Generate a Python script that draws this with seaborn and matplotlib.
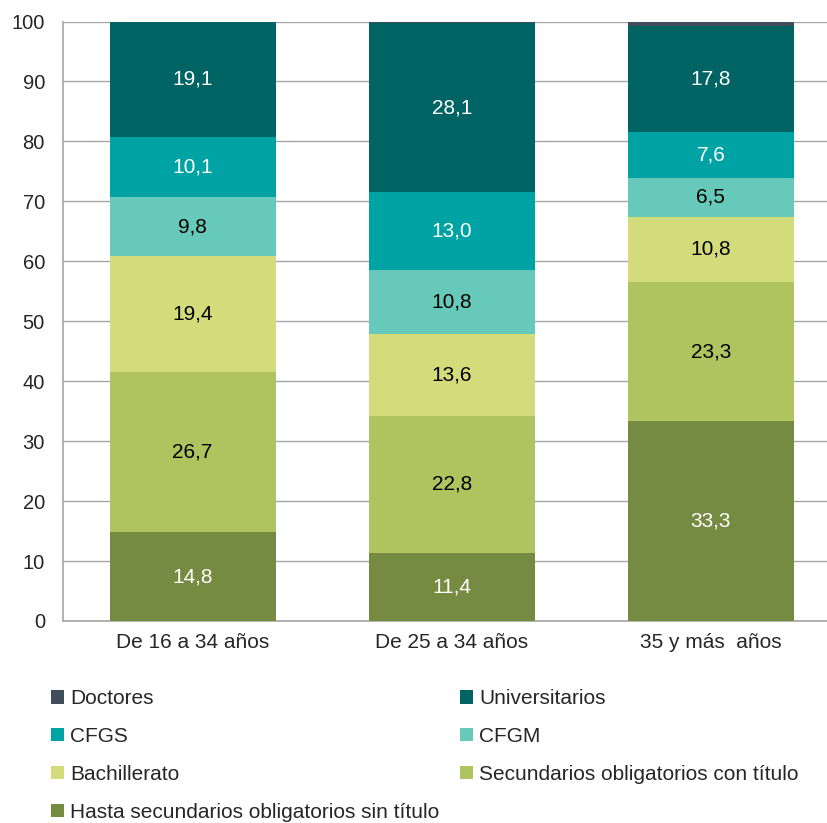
import numpy as np
import pandas as pd
import seaborn as sns
import matplotlib.pyplot as plt
from matplotlib.patches import Patch

# data (percent)
grupos = ['De 16 a 34 años', 'De 25 a 34 años', '35 y más  años']
niveles = ['Hasta secundarios obligatorios sin título',
           'Secundarios obligatorios con título',
           'Bachillerato', 'CFGM', 'CFGS', 'Universitarios', 'Doctores']
hasta_sin_titulo = [14.8, 11.4, 33.3]
sec_con_titulo = [26.7, 22.8, 23.3]
bachillerato = [19.4, 13.6, 10.8]
cfgm = [9.8, 10.8, 6.5]
cfgs = [10.1, 13.0, 7.6]
universitarios = [19.1, 28.1, 17.8]
doctores = [0.1, 0.3, 0.7]

colores = ['#758b42', '#afc45f', '#d2dc7b', '#66c9b9', '#00a3a3', '#006464', '#3f4e5a']
color_texto = ['white', 'black', 'black', 'black', 'white', 'white', None]

series = [hasta_sin_titulo, sec_con_titulo, bachillerato, cfgm, cfgs, universitarios, doctores]
df = pd.DataFrame(np.array(series).T, columns=niveles)
df['grupo'] = grupos
acum = df[niveles].cumsum(axis=1)

sns.set_style('white')
plt.rcParams['font.family'] = ['Liberation Sans', 'DejaVu Sans']

fig = plt.figure(figsize=(8.27, 8.23), dpi=100)
ax = fig.add_axes([63 / 827, 202 / 823, 764 / 827, 599.5 / 823])

# stacked bars: draw cumulative totals from the top layer down
for i in range(len(niveles) - 1, -1, -1):
    sns.barplot(x=df['grupo'], y=acum[niveles[i]], color=colores[i],
                width=0.64, ax=ax, saturation=1, linewidth=0, zorder=3)

for i, nivel in enumerate(niveles):
    if color_texto[i] is None:
        continue
    for j in range(len(grupos)):
        val = df[nivel][j]
        y = acum[nivel][j] - val / 2
        ax.text(j, y, f'{val:.1f}'.replace('.', ','), ha='center', va='center',
                color=color_texto[i], fontsize=15, zorder=5)

ax.set_ylim(0, 100)
ax.set_xlim(-0.5, 2.448)
ax.set_yticks(range(0, 101, 10))
ax.set_xlabel('')
ax.set_ylabel('')
ax.yaxis.grid(True, color='#a6a6a6', linewidth=1)
ax.set_axisbelow(True)
for s in ['top', 'right']:
    ax.spines[s].set_visible(False)
for s in ['left', 'bottom']:
    ax.spines[s].set_color('#a6a6a6')
    ax.spines[s].set_linewidth(1.2)
ax.tick_params(axis='y', length=0, pad=13, labelsize=14.5)
ax.tick_params(axis='x', length=0, pad=9, labelsize=15)

orden = [6, 4, 2, 0, 5, 3, 1]
handles = [Patch(facecolor=colores[k], edgecolor='none', label=niveles[k]) for k in orden]
fig.legend(handles=handles, ncol=2, loc='upper left', bbox_to_anchor=(0.052, 0.1725),
           frameon=False, fontsize=15, handlelength=0.6, handleheight=0.6,
           handletextpad=0.3, columnspacing=1.0, labelspacing=0.9, borderaxespad=0)

fig.savefig('out.png', dpi=100)
